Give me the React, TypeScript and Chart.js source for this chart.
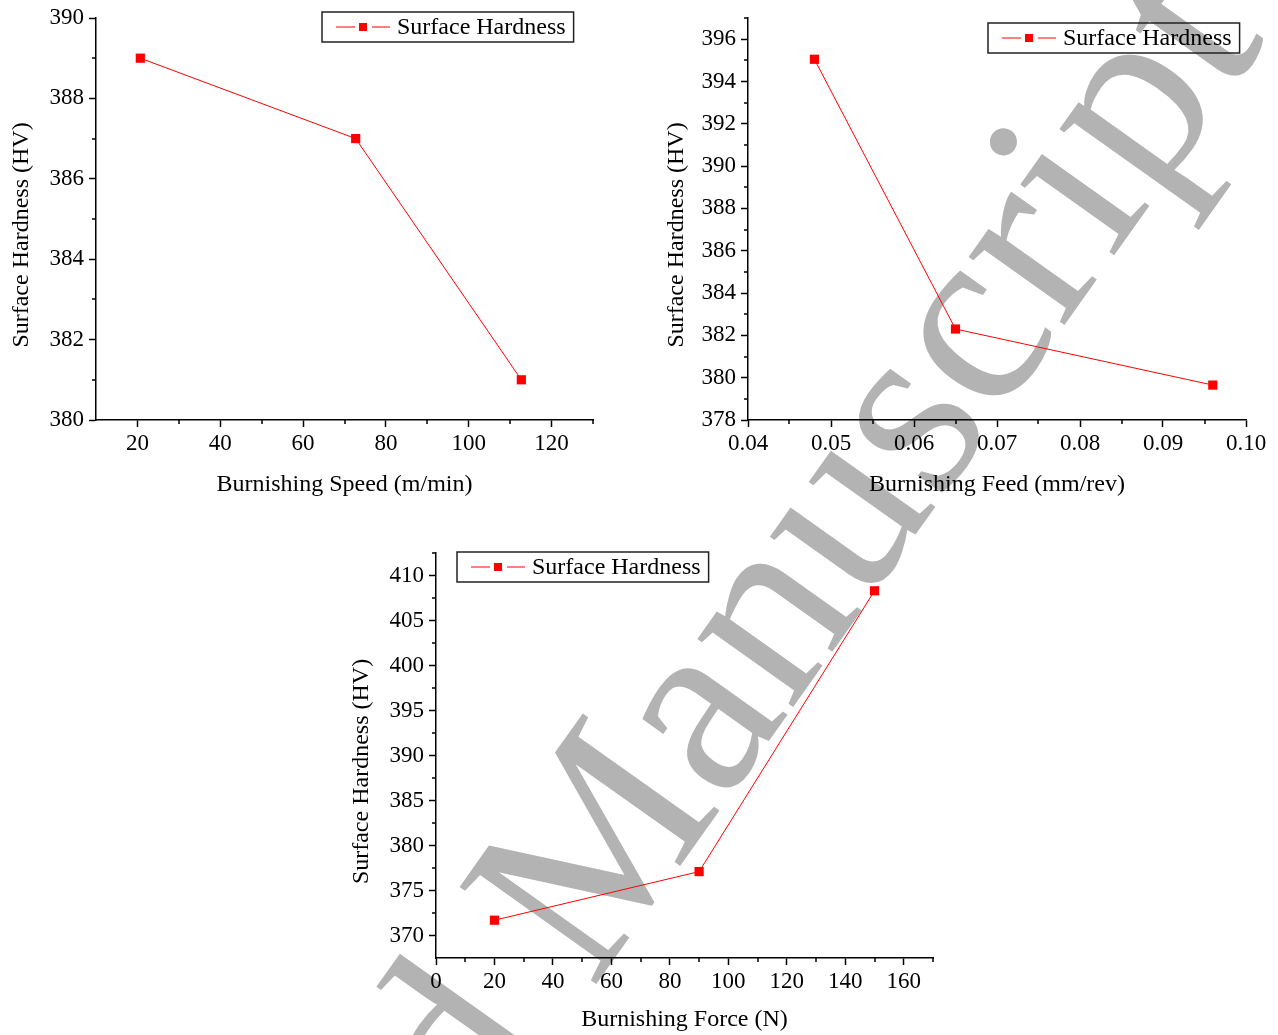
import React, { useEffect, useRef } from "react";
import { Chart, registerables } from "chart.js";

Chart.register(...registerables);

const SERIES_LABEL = "Surface Hardness";
const Y_TITLE = "Surface Hardness (HV)";
const FONT = "'Liberation Serif', 'Times New Roman', serif";

// Panel 1: Burnishing speed
const speedValues = [20.7, 72.7, 112.7];
const speedHardness = [389, 387, 381];
const speedTicksX = [20, 40, 60, 80, 100, 120];
const speedMinorX = [30, 50, 70, 90, 110, 130];
const speedTicksY = [380, 382, 384, 386, 388, 390];
const speedMinorY = [381, 383, 385, 387, 389];

// Panel 2: Burnishing feed
const feedValues = [0.048, 0.065, 0.096];
const feedHardness = [395.05, 382.3, 379.65];
const feedTicksX = [0.04, 0.05, 0.06, 0.07, 0.08, 0.09, 0.1];
const feedMinorX = [0.045, 0.055, 0.065, 0.075, 0.085, 0.095];
const feedTicksY = [378, 380, 382, 384, 386, 388, 390, 392, 394, 396];
const feedMinorY = [379, 381, 383, 385, 387, 389, 391, 393, 395, 397];

// Panel 3: Burnishing force
const forceValues = [20, 90, 150];
const forceHardness = [371.7, 377.1, 408.3];
const forceTicksX = [0, 20, 40, 60, 80, 100, 120, 140, 160];
const forceMinorX = [10, 30, 50, 70, 90, 110, 130, 150, 170];
const forceTicksY = [370, 375, 380, 385, 390, 395, 400, 405, 410];
const forceMinorY = [372.5, 377.5, 382.5, 387.5, 392.5, 397.5, 402.5, 407.5, 412.5];

const decorPlugin = {
  id: "decor",
  afterDraw(chart: any, _args: any, opts: any) {
    const ctx = chart.ctx;
    const area = chart.chartArea;
    const xs = chart.scales.x;
    const ys = chart.scales.y;
    ctx.save();
    // minor ticks
    ctx.strokeStyle = "#000";
    ctx.lineWidth = 1.5;
    ctx.beginPath();
    (opts.minorX || []).forEach((v: number) => {
      const px = Math.round(xs.getPixelForValue(v));
      ctx.moveTo(px, area.bottom);
      ctx.lineTo(px, area.bottom + 4);
    });
    (opts.minorY || []).forEach((v: number) => {
      const py = Math.round(ys.getPixelForValue(v));
      ctx.moveTo(area.left - 4, py);
      ctx.lineTo(area.left, py);
    });
    ctx.stroke();

    // axis titles
    ctx.fillStyle = "#000";
    ctx.font = `${opts.titleSize}px ${FONT}`;
    ctx.textAlign = "center";
    ctx.textBaseline = "middle";
    ctx.fillText(opts.xTitle, (area.left + area.right) / 2, area.bottom + opts.xTitleOffset);
    ctx.save();
    ctx.translate(area.left - opts.yTitleOffset, (area.top + area.bottom) / 2 + 16);
    ctx.rotate(-Math.PI / 2);
    ctx.fillText(opts.yTitle, 0, 0);
    ctx.restore();

    // legend
    const ds = chart.data.datasets[0];
    ctx.font = `${opts.legendSize}px ${FONT}`;
    ctx.textAlign = "left";
    ctx.textBaseline = "middle";
    const tw = ctx.measureText(ds.label).width;
    const bx = opts.legendX;
    const by = opts.legendY;
    const bw = 75 + tw + 8;
    const bh = 30;
    ctx.strokeStyle = "#222";
    ctx.lineWidth = 1.5;
    ctx.strokeRect(bx, by, bw, bh);
    const cy = by + bh / 2;
    ctx.strokeStyle = ds.borderColor;
    ctx.lineWidth = 1;
    ctx.beginPath();
    ctx.moveTo(bx + 14, cy);
    ctx.lineTo(bx + 33, cy);
    ctx.moveTo(bx + 50, cy);
    ctx.lineTo(bx + 68, cy);
    ctx.stroke();
    ctx.fillStyle = ds.backgroundColor;
    ctx.fillRect(bx + 37, cy - 4, 8, 8);
    ctx.fillStyle = "#000";
    ctx.fillText(ds.label, bx + 75, cy + 1);
    ctx.restore();
  },
};

type PanelCfg = {
  left: number;
  top: number;
  w: number;
  h: number;
  yw: number;
  xh: number;
  padTop: number;
  padRight: number;
  xs: number[];
  ys: number[];
  xMin: number;
  xMax: number;
  yMin: number;
  yMax: number;
  ticksX: number[];
  ticksY: number[];
  minorX: number[];
  minorY: number[];
  xFmt: (v: number) => string;
  xTitle: string;
  xTitleOffset: number;
  yTitleOffset: number;
  legendX: number;
  legendY: number;
};

const panels: PanelCfg[] = [
  {
    left: 0, top: 0, w: 620, h: 510, yw: 96, xh: 90, padTop: 18, padRight: 27,
    xs: speedValues, ys: speedHardness, xMin: 10, xMax: 130, yMin: 380, yMax: 390,
    ticksX: speedTicksX, ticksY: speedTicksY, minorX: speedMinorX, minorY: speedMinorY,
    xFmt: (v) => String(v), xTitle: "Burnishing Speed (m/min)", xTitleOffset: 65, yTitleOffset: 74,
    legendX: 322, legendY: 12,
  },
  {
    left: 640, top: 0, w: 638, h: 510, yw: 108, xh: 90, padTop: 18, padRight: 32,
    xs: feedValues, ys: feedHardness, xMin: 0.04, xMax: 0.1, yMin: 378, yMax: 397,
    ticksX: feedTicksX, ticksY: feedTicksY, minorX: feedMinorX, minorY: feedMinorY,
    xFmt: (v) => Number(v).toFixed(2), xTitle: "Burnishing Feed (mm/rev)", xTitleOffset: 65, yTitleOffset: 71,
    legendX: 348, legendY: 23,
  },
  {
    left: 330, top: 540, w: 620, h: 495, yw: 106, xh: 77, padTop: 13, padRight: 17,
    xs: forceValues, ys: forceHardness, xMin: 0, xMax: 170, yMin: 367.5, yMax: 412.5,
    ticksX: forceTicksX, ticksY: forceTicksY, minorX: forceMinorX, minorY: forceMinorY,
    xFmt: (v) => String(v), xTitle: "Burnishing Force (N)", xTitleOffset: 62, yTitleOffset: 74,
    legendX: 127, legendY: 12,
  },
];

function Panel({ cfg }: { cfg: PanelCfg }) {
  const ref = useRef<HTMLCanvasElement>(null);
  useEffect(() => {
    const tickFont = { family: FONT, size: 23 };
    const chart = new Chart(ref.current as HTMLCanvasElement, {
      type: "line",
      data: {
        datasets: [
          {
            label: SERIES_LABEL,
            data: cfg.xs.map((x, i) => ({ x, y: cfg.ys[i] })),
            borderColor: "#ff0000",
            backgroundColor: "#ff0000",
            borderWidth: 1,
            pointStyle: "rect",
            pointRadius: 6.5,
            pointBorderWidth: 0,
            pointBackgroundColor: "#ff0000",
            tension: 0,
          },
        ],
      },
      options: {
        animation: false,
        responsive: false,
        devicePixelRatio: 1,
        layout: { padding: { top: cfg.padTop, right: cfg.padRight, left: 0, bottom: 0 } },
        plugins: {
          legend: { display: false },
          tooltip: { enabled: false },
          decor: {
            minorX: cfg.minorX,
            minorY: cfg.minorY,
            xTitle: cfg.xTitle,
            yTitle: Y_TITLE,
            xTitleOffset: cfg.xTitleOffset,
            yTitleOffset: cfg.yTitleOffset,
            titleSize: 24,
            legendSize: 24,
            legendX: cfg.legendX,
            legendY: cfg.legendY,
          },
        } as any,
        scales: {
          x: {
            type: "linear",
            min: cfg.xMin,
            max: cfg.xMax,
            afterBuildTicks: (s: any) => {
              s.ticks = cfg.ticksX.map((v) => ({ value: v }));
            },
            afterFit: (s: any) => {
              s.height = cfg.xh;
              s.paddingLeft = 0;
              s.paddingRight = 0;
            },
            ticks: {
              font: tickFont,
              color: "#000",
              maxRotation: 0,
              autoSkip: false,
              padding: 3,
              callback: (v: any) => cfg.xFmt(Number(v)),
            },
            grid: {
              display: true,
              drawOnChartArea: false,
              drawTicks: true,
              tickLength: 7,
              tickColor: "#000",
              tickWidth: 1.5,
            },
            border: { display: true, color: "#000", width: 1.5 },
          },
          y: {
            type: "linear",
            min: cfg.yMin,
            max: cfg.yMax,
            afterBuildTicks: (s: any) => {
              s.ticks = cfg.ticksY.map((v) => ({ value: v }));
            },
            afterFit: (s: any) => {
              s.width = cfg.yw;
              s.paddingTop = 0;
              s.paddingBottom = 0;
            },
            ticks: {
              font: tickFont,
              color: "#000",
              autoSkip: false,
              padding: 5,
              callback: (v: any) => String(v),
            },
            grid: {
              display: true,
              drawOnChartArea: false,
              drawTicks: true,
              tickLength: 7,
              tickColor: "#000",
              tickWidth: 1.5,
            },
            border: { display: true, color: "#000", width: 1.5 },
          },
        } as any,
      },
      plugins: [decorPlugin],
    } as any);
    return () => chart.destroy();
  }, [cfg]);
  return (
    <canvas
      ref={ref}
      width={cfg.w}
      height={cfg.h}
      style={{ position: "absolute", left: cfg.left, top: cfg.top, width: cfg.w, height: cfg.h }}
    />
  );
}

const WM_SIZE = 256;
const WM_BASE_X = 592;
const WM_BASE_Y = 990;
const WM_ANGLE = -54.6;

export default function App() {
  const wmText: React.CSSProperties = {
    position: "absolute",
    top: -0.8375 * WM_SIZE,
    fontFamily: FONT,
    fontSize: WM_SIZE,
    lineHeight: `${WM_SIZE}px`,
    color: "#b3b3b3",
    whiteSpace: "nowrap",
  };
  return (
    <div
      style={{
        position: "absolute",
        left: 0,
        top: 0,
        width: 1278,
        height: 1035,
        overflow: "hidden",
        background: "#fff",
      }}
    >
      <div
        style={{
          position: "absolute",
          left: WM_BASE_X,
          top: WM_BASE_Y,
          width: 0,
          height: 0,
          transform: `rotate(${WM_ANGLE}deg)`,
          transformOrigin: "0 0",
        }}
      >
        <span style={{ ...wmText, right: 0.25 * WM_SIZE }}>Accepted</span>
        <span style={{ ...wmText, left: 0 }}>Manuscript</span>
      </div>
      {panels.map((p, i) => (
        <Panel key={i} cfg={p} />
      ))}
    </div>
  );
}
